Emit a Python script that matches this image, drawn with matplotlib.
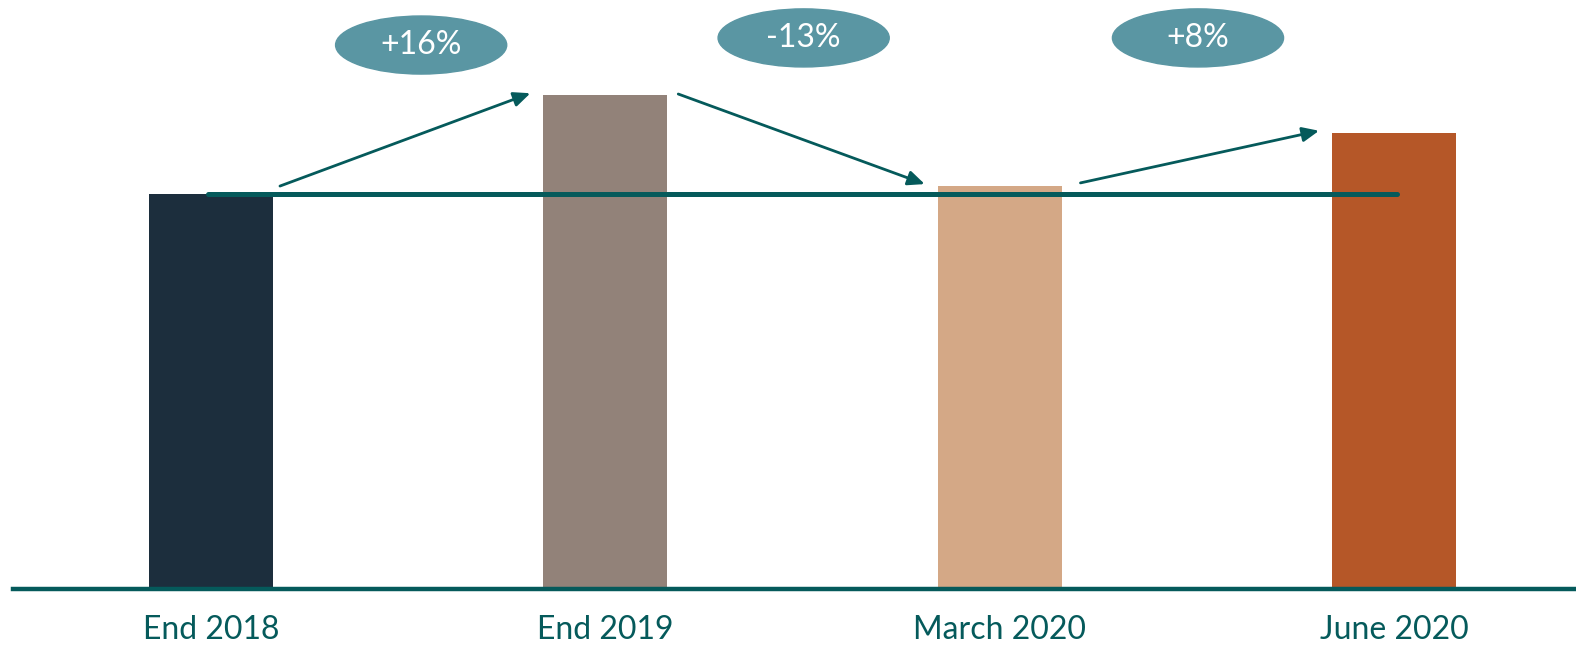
import matplotlib.pyplot as plt
from matplotlib.patches import Ellipse

# Werte (relative Einheiten)
categories = ["End 2018", "End 2019", "March 2020", "June 2020"]
values = [100, 125, 102, 115.5]
changes = ["+16%", "-13%", "+8%"]
bar_colors = ["#1C2E3D", "#928279", "#D4A886", "#B55728"]

teal = "#055A5B"
bubble = "#5A96A3"

plt.rcParams["font.family"] = ["Lato", "DejaVu Sans"]

fig = plt.figure(figsize=(15.76, 6.46), dpi=100)
ax = fig.add_axes([0, 0, 1, 1])

x = list(range(len(categories)))
ax.bar(x, values, width=0.315, color=bar_colors, zorder=2)

# Grundlinie
ax.axhline(0, xmin=0.008, xmax=1, color=teal, lw=3.2, zorder=3)

# Referenzlinie auf Höhe End 2018
ax.plot([-0.008, 3.008], [values[0], values[0]], color=teal, lw=3.6,
        solid_capstyle="round", zorder=3)

# Pfeile und Prozent-Blasen
start_dx = [0.175, 0.185, 0.205]
start_dy = [2.0, 0.3, 0.8]
for i, txt in enumerate(changes):
    ax.annotate("", xy=(i + 0.81, values[i + 1] + 0.5),
                xytext=(i + start_dx[i], values[i] + start_dy[i]),
                arrowprops=dict(arrowstyle="-|>,head_length=0.5,head_width=0.22",
                                color=teal, lw=2, mutation_scale=20,
                                shrinkA=0, shrinkB=0), zorder=4)
    cx = i + 0.5 + (0.033 if i == 0 else 0.003)
    cy = 137.7 if i == 0 else 139.5
    ax.add_patch(Ellipse((cx, cy), 0.434, 14.7, color=bubble, zorder=4))
    ax.text(cx, cy, txt, color="white", fontsize=23, ha="center", va="center", zorder=5)

for xi, lab in zip(x, categories):
    ax.text(xi, -10.4, lab, color=teal, fontsize=23, ha="center", va="center")

ax.set_xlim(-0.535, 3.4616)
ax.set_ylim(-14.43, 149.1)
ax.axis("off")

fig.savefig("out.png", dpi=100)
